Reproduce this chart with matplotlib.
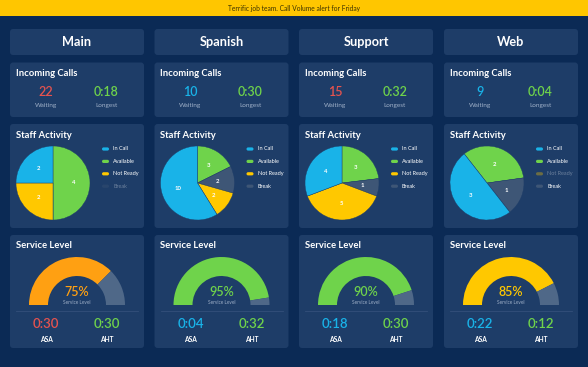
import matplotlib
matplotlib.use('Agg')
import matplotlib.pyplot as plt
from matplotlib.patches import FancyBboxPatch, Rectangle

# data
banner = 'Terrific job team. Call Volume alert for Friday'
queues = ['Main', 'Spanish', 'Support', 'Web']
waiting = [22, 10, 15, 9]
longest = ['0:18', '0:30', '0:32', '0:04']
activity_labels = ['In Call', 'Available', 'Not Ready', 'Break']
in_call = [2, 10, 4, 3]
available = [4, 3, 3, 2]
not_ready = [2, 2, 5, 0]
on_break = [0, 2, 1, 1]
service_level = [75, 95, 90, 85]
asa = ['0:30', '0:04', '0:18', '0:22']
aht = ['0:30', '0:32', '0:30', '0:12']

# colours
BG = '#0b2a55'
PANEL = '#1e3d68'
YELLOW_BAR = '#ffc600'
RED = '#e5534f'
GREEN = '#6fd34b'
BLUE = '#19b3e8'
YELLOW = '#ffc800'
ORANGE = '#ffa012'
SLATE = '#3e5676'
REST = '#4f6888'
SUB = '#9fb0c8'

plt.rcParams['font.family'] = ['Lato', 'DejaVu Sans']

W, H = 588, 367
fig = plt.figure(figsize=(W / 100, H / 100), dpi=100, facecolor=BG)
ax = fig.add_axes([0, 0, 1, 1])
ax.set_facecolor(BG)


def Y(y):
    # pixel rows from the top -> data y
    return H - y


def panel(x, y, w, h):
    ax.add_patch(FancyBboxPatch((x, Y(y + h)), w, h, boxstyle='round,pad=0,rounding_size=3',
                                facecolor=PANEL, edgecolor='none', zorder=1))


def secs(t):
    m, s = t.split(':')
    return int(m) * 60 + int(s)


# banner
ax.add_patch(Rectangle((0, Y(16)), W, 16, facecolor=YELLOW_BAR, edgecolor='none', zorder=1))
ax.text(W / 2, Y(8), banner, ha='center', va='center', fontsize=4.8, color='#3b3200', zorder=3)

col_x = [10, 154.5, 299, 444]
PW = 134
pie_start = [90, 90, 90, 128]

for i, q in enumerate(queues):
    x0 = col_x[i]

    # header
    panel(x0, 29, PW, 26)
    ax.text(x0 + PW / 2, Y(42.5), q, ha='center', va='center', fontsize=9.2,
            fontweight='bold', color='white', zorder=3)

    # incoming calls
    panel(x0, 62.5, PW, 54.5)
    ax.text(x0 + 6, Y(73), 'Incoming Calls', ha='left', va='center', fontsize=6.8,
            fontweight='bold', color='white', zorder=3)
    ax.text(x0 + 36, Y(92), str(waiting[i]), ha='center', va='center', fontsize=9,
            fontweight='semibold', color=RED if waiting[i] > 12 else BLUE, zorder=3)
    ax.text(x0 + 96, Y(92), longest[i], ha='center', va='center', fontsize=9,
            fontweight='semibold', color=GREEN, zorder=3)
    ax.text(x0 + 36, Y(106), 'Waiting', ha='center', va='center', fontsize=4.6, color=SUB, zorder=3)
    ax.text(x0 + 96, Y(106), 'Longest', ha='center', va='center', fontsize=4.6, color=SUB, zorder=3)

    # staff activity
    panel(x0, 124, PW, 104)
    ax.text(x0 + 6, Y(135), 'Staff Activity', ha='left', va='center', fontsize=6.8,
            fontweight='bold', color='white', zorder=3)
    vals = [available[i], on_break[i], not_ready[i], in_call[i]]
    total = sum(vals)
    wedges, _, autotexts = ax.pie(
        vals, colors=[GREEN, SLATE, YELLOW, BLUE], startangle=pie_start[i], counterclock=False,
        center=(x0 + 43, Y(183)), radius=37, pctdistance=0.55,
        autopct=lambda p, t=total: '' if p < 0.5 else f'{p * t / 100:.0f}',
        wedgeprops=dict(linewidth=0.3, edgecolor=PANEL),
        textprops=dict(fontsize=4.3, color='white', fontweight='bold'))
    for w in wedges:
        w.set_zorder(2)
    for t in autotexts:
        t.set_zorder(3)

    leg_vals = [in_call[i], available[i], not_ready[i], on_break[i]]
    leg_cols = [BLUE, GREEN, YELLOW, SLATE]
    for k, lab in enumerate(activity_labels):
        ly = Y(149 + k * 12.4)
        a = 1.0 if leg_vals[k] > 0 else 0.35
        ax.add_patch(FancyBboxPatch((x0 + 92, ly - 1.6), 7, 3.2,
                                    boxstyle='round,pad=0,rounding_size=1.6',
                                    facecolor=leg_cols[k], edgecolor='none', alpha=a, zorder=3))
        ax.text(x0 + 103, ly, lab, ha='left', va='center', fontsize=4.0,
                color='white', alpha=a, zorder=3)

    # service level
    panel(x0, 235, PW, 113)
    ax.text(x0 + 6, Y(246), 'Service Level', ha='left', va='center', fontsize=6.8,
            fontweight='bold', color='white', zorder=3)
    sl = service_level[i]
    gc = GREEN if sl >= 90 else (YELLOW if sl >= 80 else ORANGE)
    gw, _ = ax.pie([sl, 100 - sl, 100], colors=[gc, REST, 'none'], startangle=180,
                   counterclock=False, center=(x0 + PW / 2, Y(305)), radius=48,
                   wedgeprops=dict(width=19, linewidth=0))
    for w in gw:
        w.set_zorder(2)
    ax.text(x0 + PW / 2, Y(292), f'{sl}%', ha='center', va='center', fontsize=9,
            fontweight='semibold', color=gc, zorder=3)
    ax.text(x0 + PW / 2, Y(302), 'Service Level', ha='center', va='center', fontsize=3.4,
            color=SUB, zorder=3)
    ax.plot([x0 + 6, x0 + PW - 6], [Y(311), Y(311)], color='#34507a', lw=0.6, zorder=3)
    ax.text(x0 + 36, Y(324), asa[i], ha='center', va='center', fontsize=9.5,
            fontweight='semibold', color=RED if secs(asa[i]) >= 30 else BLUE, zorder=3)
    ax.text(x0 + 97, Y(324), aht[i], ha='center', va='center', fontsize=9.5,
            fontweight='semibold', color=GREEN, zorder=3)
    ax.text(x0 + 36, Y(339), 'ASA', ha='center', va='center', fontsize=4.8,
            fontweight='bold', color='white', zorder=3)
    ax.text(x0 + 97, Y(339), 'AHT', ha='center', va='center', fontsize=4.8,
            fontweight='bold', color='white', zorder=3)

ax.set_aspect('auto')
ax.set_xlim(0, W)
ax.set_ylim(0, H)
ax.set_position([0, 0, 1, 1])
ax.axis('off')

fig.savefig('out.png', dpi=100, facecolor=BG)
